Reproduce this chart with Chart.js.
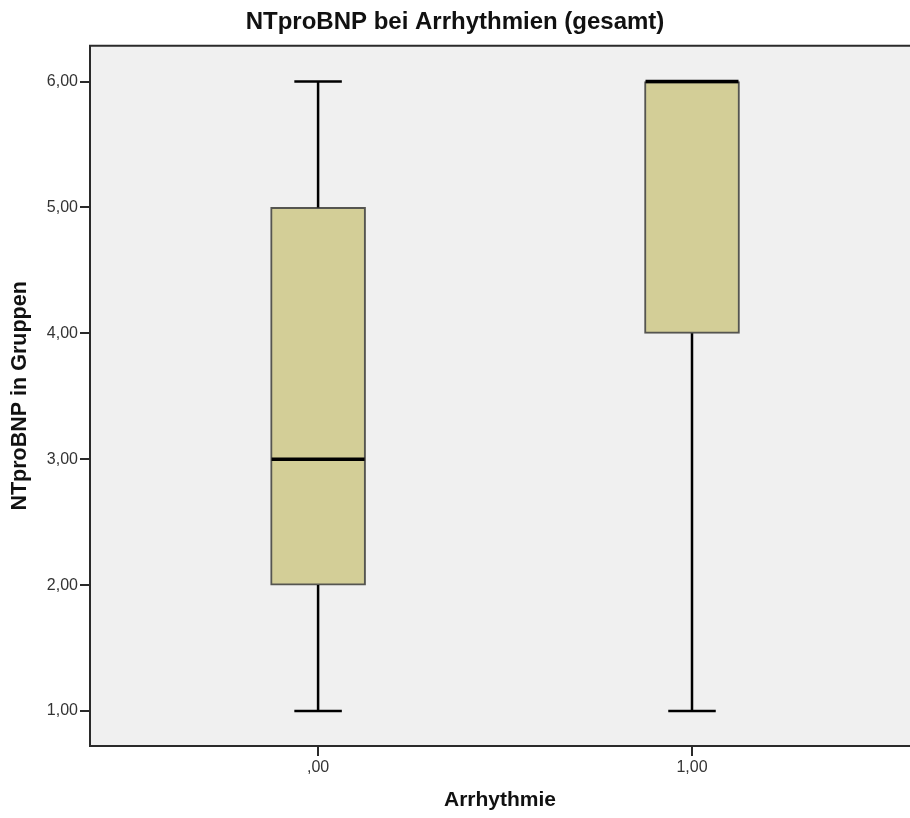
<!DOCTYPE html>
<html>
<head>
<meta charset="utf-8">
<script src="https://cdn.jsdelivr.net/npm/chart.js@4/dist/chart.umd.min.js"></script>
<style>
  html, body { margin: 0; padding: 0; background: #ffffff; overflow: hidden; }
  #wrap { width: 910px; height: 818px; }
</style>
</head>
<body>
<div id="wrap"><canvas id="c" width="910" height="818"></canvas></div>
<script>
// ---- data ----
const categories = [',00', '1,00'];
const xPositions = [0, 1];
const whiskerMin = [1, 1];
const q1 = [2, 4];
const median = [3, 6];
const q3 = [5, 6];
const whiskerMax = [6, 6];
const yTicks = [1, 2, 3, 4, 5, 6];

const chartTitle = 'NTproBNP bei Arrhythmien (gesamt)';
const xTitle = 'Arrhythmie';
const yTitle = 'NTproBNP in Gruppen';

const FONT = "'Liberation Sans', Arial, Helvetica, sans-serif";

const boxData = xPositions.map((x, i) => ({ x: x, y: [q1[i], q3[i]] }));

const fmt = v => {
  const s = Number(v).toFixed(2).replace('.', ',');
  return s.startsWith('0,') ? s.slice(1) : s;
};

const framePlugin = {
  id: 'frame',
  beforeDraw(chart) {
    const { ctx, chartArea: a } = chart;
    ctx.save();
    ctx.fillStyle = '#f0f0f0';
    ctx.fillRect(a.left, a.top, a.right - a.left, a.bottom - a.top);
    ctx.restore();
  },
  afterDraw(chart) {
    const { ctx, chartArea: a } = chart;
    ctx.save();
    ctx.strokeStyle = '#2a2a2a';
    ctx.lineWidth = 2;
    ctx.beginPath();
    ctx.moveTo(a.right + 5, a.top);
    ctx.lineTo(a.left, a.top);
    ctx.lineTo(a.left, a.bottom);
    ctx.lineTo(a.right + 5, a.bottom);
    ctx.stroke();
    ctx.restore();
  }
};

const boxPlugin = {
  id: 'boxplot',
  afterDatasetsDraw(chart) {
    const { ctx } = chart;
    const ys = chart.scales.y;
    const meta = chart.getDatasetMeta(0);
    ctx.save();
    ctx.strokeStyle = '#000000';
    ctx.lineCap = 'butt';
    meta.data.forEach((bar, i) => {
      const cx = bar.x;
      const w = bar.width;
      const capHalf = w * 0.25;
      const pMin = ys.getPixelForValue(whiskerMin[i]);
      const pQ1 = ys.getPixelForValue(q1[i]);
      const pQ3 = ys.getPixelForValue(q3[i]);
      const pMax = ys.getPixelForValue(whiskerMax[i]);
      const pMed = ys.getPixelForValue(median[i]);
      ctx.lineWidth = 2.5;
      ctx.beginPath();
      if (whiskerMin[i] < q1[i]) {
        ctx.moveTo(cx, pQ1); ctx.lineTo(cx, pMin);
        ctx.moveTo(cx - capHalf, pMin); ctx.lineTo(cx + capHalf, pMin);
      }
      if (whiskerMax[i] > q3[i]) {
        ctx.moveTo(cx, pQ3); ctx.lineTo(cx, pMax);
        ctx.moveTo(cx - capHalf, pMax); ctx.lineTo(cx + capHalf, pMax);
      }
      ctx.stroke();
      ctx.lineWidth = 3.5;
      ctx.beginPath();
      ctx.moveTo(cx - w / 2 + 1, pMed);
      ctx.lineTo(cx + w / 2 - 1, pMed);
      ctx.stroke();
    });
    ctx.restore();
  }
};

new Chart(document.getElementById('c'), {
  type: 'bar',
  data: {
    datasets: [{
      data: boxData,
      backgroundColor: '#d3ce97',
      borderColor: '#555550',
      borderWidth: 2,
      borderSkipped: false,
      barThickness: 95
    }]
  },
  plugins: [framePlugin, boxPlugin],
  options: {
    responsive: false,
    animation: false,
    devicePixelRatio: 1,
    layout: { padding: { left: 0, right: 0, top: 0, bottom: 0 } },
    plugins: {
      legend: { display: false },
      tooltip: { enabled: false },
      title: {
        display: true,
        text: chartTitle,
        color: '#111111',
        font: { family: FONT, size: 24, weight: 'bold', lineHeight: 1.2 },
        padding: { top: 8, bottom: 9 }
      }
    },
    scales: {
      x: {
        type: 'linear',
        offset: false,
        min: -0.61,
        max: 1.583,
        afterBuildTicks(scale) { scale.ticks = xPositions.map(v => ({ value: v })); },
        afterFit(scale) { scale.height = 72; },
        ticks: {
          callback: (v) => categories[xPositions.indexOf(v)],
          color: '#333333',
          font: { family: FONT, size: 16 },
          padding: 2,
          maxRotation: 0,
          autoSkip: false
        },
        grid: {
          offset: false,
          drawOnChartArea: false,
          drawTicks: true,
          tickLength: 10,
          color: '#2a2a2a',
          lineWidth: 2
        },
        border: { display: false },
        title: {
          display: true,
          text: xTitle,
          color: '#111111',
          font: { family: FONT, size: 21, weight: 'bold', lineHeight: 1.2 },
          padding: { top: 0, bottom: 5 }
        }
      },
      y: {
        type: 'linear',
        min: 0.722,
        max: 6.284,
        afterBuildTicks(scale) { scale.ticks = yTicks.map(v => ({ value: v })); },
        afterFit(scale) { scale.width = 90; },
        ticks: {
          callback: (v) => fmt(v),
          color: '#333333',
          font: { family: FONT, size: 16 },
          padding: 2,
          autoSkip: false
        },
        grid: {
          drawOnChartArea: false,
          drawTicks: true,
          tickLength: 10,
          color: '#2a2a2a',
          lineWidth: 2
        },
        border: { display: false },
        title: {
          display: true,
          text: yTitle,
          color: '#111111',
          font: { family: FONT, size: 21.5, weight: 'bold', lineHeight: 1.2 },
          padding: { top: 7, bottom: 0 }
        }
      }
    }
  }
});
</script>
</body>
</html>
